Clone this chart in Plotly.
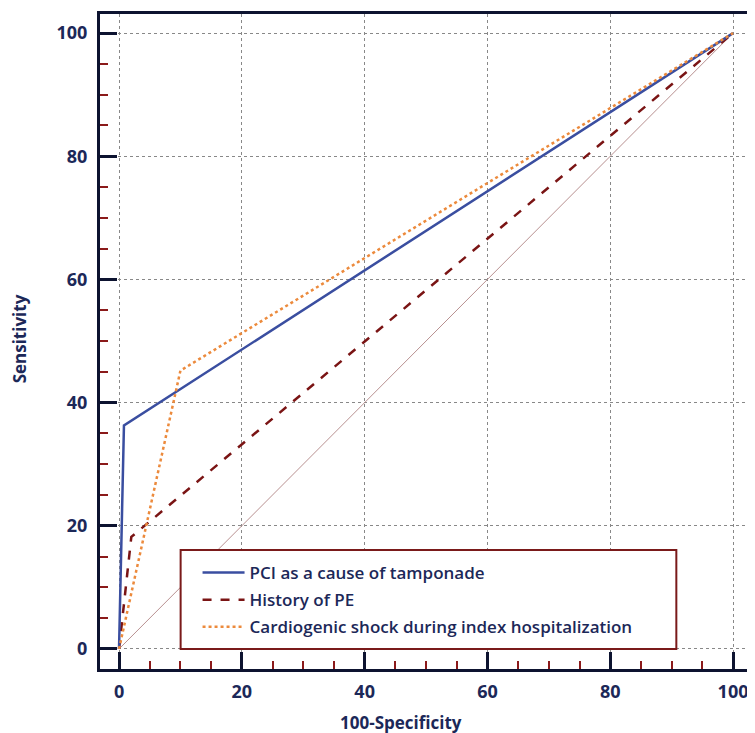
import plotly.graph_objects as go

# ROC curve data (100-Specificity, Sensitivity)
pci_x = [0, 0.8, 100]
pci_y = [0, 36.3, 100]
pe_x = [0, 2, 100]
pe_y = [0, 18.2, 100]
shock_x = [0, 10, 100]
shock_y = [0, 45.2, 100]
ref_x = [0, 100]
ref_y = [0, 100]

series_names = ["PCI as a cause of tamponade", "History of PE",
                "Cardiogenic shock during index hospitalization"]
tick_vals = [0, 20, 40, 60, 80, 100]
tick_text = ["0", "20", "40", "60", "80", "100"]

NAVY = "#1c2858"
MAROON = "#7a1a1a"
FONT = "Open Sans"

# page body has an 8px margin; figure occupies (8..755, 8..733)
OFF = 8
W, H = 755 - OFF, 733 - OFF
ML, MR, MT, MB = 100 - OFF, 3, 14 - OFF, 64


def px_to_paper(px, py):
    fx, fy = px - OFF, py - OFF
    pw = W - ML - MR
    ph = H - MT - MB
    return (fx - ML) / pw, (H - MB - fy) / ph


fig = go.Figure()
fig.add_trace(go.Scatter(x=ref_x, y=ref_y, mode="lines",
                         line=dict(color="#b89090", width=1), showlegend=False,
                         hoverinfo="skip"))
fig.add_trace(go.Scatter(x=pe_x, y=pe_y, mode="lines", name=series_names[1],
                         line=dict(color="#7a1414", width=2.5, dash="dash"),
                         legendrank=2, legendgroup="g2"))
fig.add_trace(go.Scatter(x=pci_x, y=pci_y, mode="lines", name=series_names[0],
                         line=dict(color="#3a4ea0", width=2.5),
                         legendrank=1, legendgroup="g1"))
fig.add_trace(go.Scatter(x=shock_x, y=shock_y, mode="lines", name=series_names[2],
                         line=dict(color="#ec8a3c", width=2.5, dash="dot"),
                         legendrank=3, legendgroup="g3"))

axis_common = dict(
    showline=True, linewidth=3, linecolor="#0d1330", mirror=True,
    ticks="inside", ticklen=17, tickwidth=3, tickcolor="#0d1330",
    tickvals=tick_vals, ticktext=tick_text,
    showgrid=True, gridcolor="#888888", gridwidth=1, griddash="dot",
    zeroline=False,
    tickfont=dict(family=FONT, size=18, color=NAVY, weight="bold"),
    minor=dict(ticks="inside", ticklen=8, tickwidth=2, tickcolor="#8b1a1a",
               dtick=5, tick0=0, showgrid=False),
)

fig.update_xaxes(range=[-3.1, 102.6], ticklabelstandoff=4, **axis_common)
fig.update_yaxes(range=[-3.25, 103.1], ticklabelstandoff=6, **axis_common)

lx, ly = px_to_paper(198, 645)
bx0, by0 = px_to_paper(181, 649)
bx1, by1 = px_to_paper(679, 550)
tx_x, tx_y = px_to_paper(402, 722)
ty_x, ty_y = px_to_paper(19, 339)

fig.update_layout(
    width=W, height=H,
    margin=dict(l=ML, r=MR, t=MT, b=MB),
    paper_bgcolor="white", plot_bgcolor="white",
    legend=dict(
        x=lx, y=ly, xanchor="left", yanchor="bottom",
        bgcolor="rgba(0,0,0,0)", borderwidth=0,
        font=dict(family=FONT, size=17, color=NAVY, weight=600),
        itemwidth=42, traceorder="grouped", tracegroupgap=2,
    ),
    shapes=[dict(type="rect", xref="paper", yref="paper",
                 x0=bx0, y0=by0, x1=bx1, y1=by1,
                 fillcolor="white", line=dict(color=MAROON, width=2),
                 layer="above")],
    annotations=[
        dict(text="100-Specificity", x=tx_x, y=tx_y, xref="paper", yref="paper",
             xanchor="center", yanchor="middle",
             showarrow=False, font=dict(family=FONT, size=17, color=NAVY, weight="bold")),
        dict(text="Sensitivity", x=ty_x, y=ty_y, xref="paper", yref="paper",
             xanchor="center", yanchor="middle",
             showarrow=False, textangle=-90,
             font=dict(family=FONT, size=17, color=NAVY, weight="bold")),
    ],
)

fig.write_html("out.html")
